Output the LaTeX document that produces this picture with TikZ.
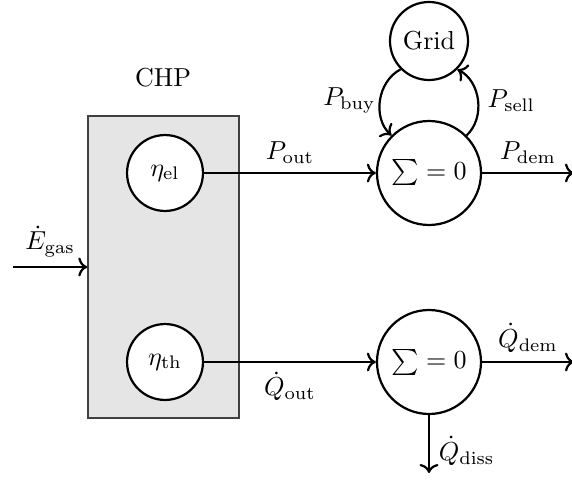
\documentclass[tikz,border=0pt]{standalone}
\usetikzlibrary{arrows.meta}
\begin{document}
\begin{tikzpicture}[x=0.3846pt,y=-0.3846pt, line width=0.85pt,
  eta/.style={circle,draw,fill=white,minimum size=29.2pt,inner sep=0pt},
  sumnode/.style={circle,draw,fill=white,minimum size=40pt,inner sep=0pt},
  gridnode/.style={circle,draw,fill=white,minimum size=30pt,inner sep=0pt},
  chpbox/.style={rectangle,draw=black!75,line width=0.5pt,fill=black!10,minimum width=58.1pt,minimum height=116.2pt,inner sep=0pt},
  flow/.style={->}]
\useasboundingbox (0,0) rectangle (572,481);
\node[chpbox] (chp) at (163.5,267) {};
\node (chplabel) at (163,78) {CHP};
\node[eta] (el) at (165,173) {$\eta_\mathrm{el}$};
\node[eta] (th) at (165,362) {$\eta_\mathrm{th}$};
\node[sumnode] (s1) at (429,173) {$\sum = 0$};
\node[sumnode] (s2) at (429,362) {$\sum = 0$};
\node[gridnode] (grid) at (429,41) {Grid};
\coordinate (ein) at (13,267);
\coordinate (pdem) at (574,173);
\coordinate (qdem) at (574,362);
\coordinate (qdiss) at (429,473);
\draw[flow] (ein) -- node[above] {$\dot{E}_\mathrm{gas}$} (chp.west);
\draw[flow] (el) -- node[above] {$P_\mathrm{out}$} (s1);
\draw[flow] (th) -- node[below] {$\dot{Q}_\mathrm{out}$} (s2);
\draw[flow] (s1) -- node[above] {$P_\mathrm{dem}$} (pdem);
\draw[flow] (s2) -- node[above] {$\dot{Q}_\mathrm{dem}$} (qdem);
\draw[flow] (s2) -- node[right, pos=0.62] {$\dot{Q}_\mathrm{diss}$} (qdiss);
\draw[flow] (grid.225) to[bend right=55] node[left, xshift=2pt] {$P_\mathrm{buy}$} (s1.135);
\draw[flow] (s1.45) to[bend right=55] node[right] {$P_\mathrm{sell}$} (grid.315);
\end{tikzpicture}
\end{document}
